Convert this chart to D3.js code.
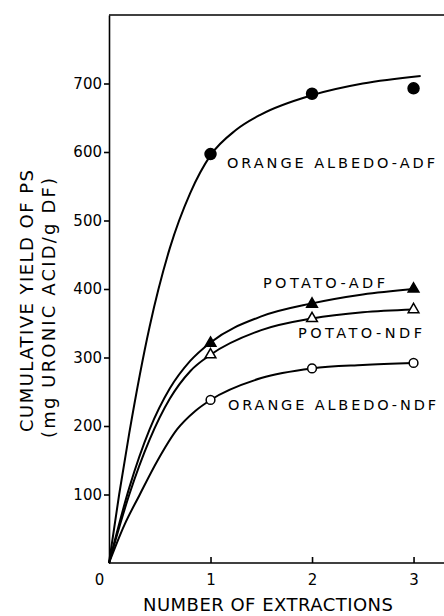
<!doctype html>
<html>
  <head>
    <meta charset="utf-8">
    <script src="https://d3js.org/d3.v7.min.js"></script>
    <style>
      body { margin: 0; background: #fff; }
      svg { display: block; }
      .axis path, .axis line { stroke: #000; stroke-width: 1.6px; }
      .axis text { font-family: "DejaVu Sans", sans-serif; font-size: 15px; fill: #000; }
      .lbl { font-family: "DejaVu Sans", sans-serif; fill: #000; }
    </style>
  </head>
  <body>
    <script>
    // measured points (number of extractions -> mg uronic acid / g DF)
    var extractions = [1, 2, 3];
    var orangeAdf = [597, 685, 693];
    var potatoAdf = [321, 378, 400];
    var potatoNdf = [304, 357, 370];
    var orangeNdf = [238, 284, 292];

    // hand-drawn fitted curves
    var orangeAdfCurveX = [0, 0.1, 0.2, 0.4, 0.6, 0.8, 1, 1.25, 1.5, 2, 2.5, 3.07];
    var orangeAdfCurveY = [0, 100, 190, 345, 460, 540, 595, 632, 655, 683, 700, 711];
    var potatoAdfCurveX = [0, 0.2, 0.4, 0.6, 0.8, 1, 1.5, 2, 2.5, 3];
    var potatoAdfCurveY = [0, 110, 195, 255, 295, 322, 360, 379, 392, 400];
    var potatoNdfCurveX = [0, 0.2, 0.4, 0.6, 0.8, 1, 1.5, 2, 2.5, 3];
    var potatoNdfCurveY = [0, 100, 180, 240, 280, 304, 340, 357, 366, 370];
    var orangeNdfCurveX = [0, 0.15, 0.3, 0.48, 0.67, 0.85, 1, 1.5, 2, 2.5, 3];
    var orangeNdfCurveY = [0, 55, 99, 150, 195, 222, 238, 270, 284, 289, 292];

    var yTicks = [100, 200, 300, 400, 500, 600, 700];
    var xTicks = [0, 1, 2, 3];

    var width = 444;
    var height = 616;
    var margin = { top: 15, right: 0, bottom: 53, left: 109 };
    var innerWidth = width - margin.left - margin.right;
    var innerHeight = height - margin.top - margin.bottom;

    var svg = d3.select("body")
              .append("svg")
              .attr("width", width)
              .attr("height", height);

    var g = svg.append("g")
            .attr("transform", "translate(" + margin.left + "," + margin.top + ")");

    var x = d3.scaleLinear().domain([0, 3.3]).range([0, innerWidth]);
    var y = d3.scaleLinear().domain([0, 800]).range([innerHeight, 0]);

    // frame top line
    g.append("line")
      .attr("x1", 0).attr("x2", innerWidth + 2)
      .attr("y1", y(800)).attr("y2", y(800))
      .attr("stroke", "#000").attr("stroke-width", 1.6);

    // axes
    g.append("g")
      .attr("class", "axis")
      .call(d3.axisLeft(y).tickValues(yTicks).tickSizeInner(5).tickSizeOuter(0).tickPadding(2));

    var xAxis = g.append("g")
      .attr("class", "axis")
      .attr("transform", "translate(0," + innerHeight + ")")
      .call(d3.axisBottom(x).tickValues(xTicks).tickFormat(d3.format("d"))
        .tickSizeInner(-6).tickSizeOuter(0).tickPadding(8));
    xAxis.select(".domain").attr("d", "M0,0H" + (innerWidth + 2));
    xAxis.selectAll(".tick text").attr("dy", "0.95em");
    var zeroTick = xAxis.selectAll(".tick").filter(function(d) { return d === 0; });
    zeroTick.select("text").attr("dx", -10);
    zeroTick.select("line").remove();

    // curves
    var line = d3.line()
      .x(function(d) { return x(d[0]); })
      .y(function(d) { return y(d[1]); })
      .curve(d3.curveMonotoneX);

    var curves = [
      d3.zip(orangeAdfCurveX, orangeAdfCurveY),
      d3.zip(potatoAdfCurveX, potatoAdfCurveY),
      d3.zip(potatoNdfCurveX, potatoNdfCurveY),
      d3.zip(orangeNdfCurveX, orangeNdfCurveY)
    ];

    g.selectAll(".curve")
      .data(curves)
      .enter()
      .append("path")
      .attr("class", "curve")
      .attr("fill", "none")
      .attr("stroke", "#000")
      .attr("stroke-width", 2)
      .attr("d", line);

    // markers
    var series = [
      { values: orangeAdf, shape: d3.symbolCircle, size: 95, fill: "#000" },
      { values: potatoAdf, shape: d3.symbolTriangle, size: 50, fill: "#000" },
      { values: potatoNdf, shape: d3.symbolTriangle, size: 50, fill: "#fff" },
      { values: orangeNdf, shape: d3.symbolCircle, size: 60, fill: "#fff" }
    ];

    series.forEach(function(s) {
      g.selectAll(null)
        .data(d3.zip(extractions, s.values))
        .enter()
        .append("path")
        .attr("transform", function(d) { return "translate(" + x(d[0]) + "," + y(d[1]) + ")"; })
        .attr("d", d3.symbol().type(s.shape).size(s.size))
        .attr("fill", s.fill)
        .attr("stroke", "#000")
        .attr("stroke-width", 1.5);
    });

    // series labels (absolute svg coordinates)
    var labels = [
      { text: "ORANGE  ALBEDO-ADF", x: 227, y: 168, len: 208 },
      { text: "POTATO-ADF", x: 263, y: 288, len: 122 },
      { text: "POTATO-NDF", x: 298, y: 338, len: 124 },
      { text: "ORANGE  ALBEDO-NDF", x: 228, y: 410, len: 208 }
    ];
    svg.selectAll(".series-label")
      .data(labels)
      .enter()
      .append("text")
      .attr("class", "lbl series-label")
      .attr("x", function(d) { return d.x; })
      .attr("y", function(d) { return d.y; })
      .attr("font-size", "14.5px")
      .attr("textLength", function(d) { return d.len; })
      .attr("lengthAdjust", "spacing")
      .text(function(d) { return d.text; });

    // axis titles
    svg.append("text")
      .attr("class", "lbl")
      .attr("x", 268)
      .attr("y", 611)
      .attr("text-anchor", "middle")
      .attr("font-size", "18px")
      .attr("textLength", 250)
      .attr("lengthAdjust", "spacing")
      .text("NUMBER OF EXTRACTIONS");

    svg.append("text")
      .attr("class", "lbl")
      .attr("transform", "translate(33,301) rotate(-90)")
      .attr("text-anchor", "middle")
      .attr("font-size", "18px")
      .attr("textLength", 262)
      .attr("lengthAdjust", "spacing")
      .text("CUMULATIVE YIELD OF PS");

    svg.append("text")
      .attr("class", "lbl")
      .attr("transform", "translate(55,308) rotate(-90)")
      .attr("text-anchor", "middle")
      .attr("font-size", "18px")
      .attr("textLength", 260)
      .attr("lengthAdjust", "spacing")
      .text("(mg URONIC ACID/g DF)");
    </script>
  </body>
</html>
